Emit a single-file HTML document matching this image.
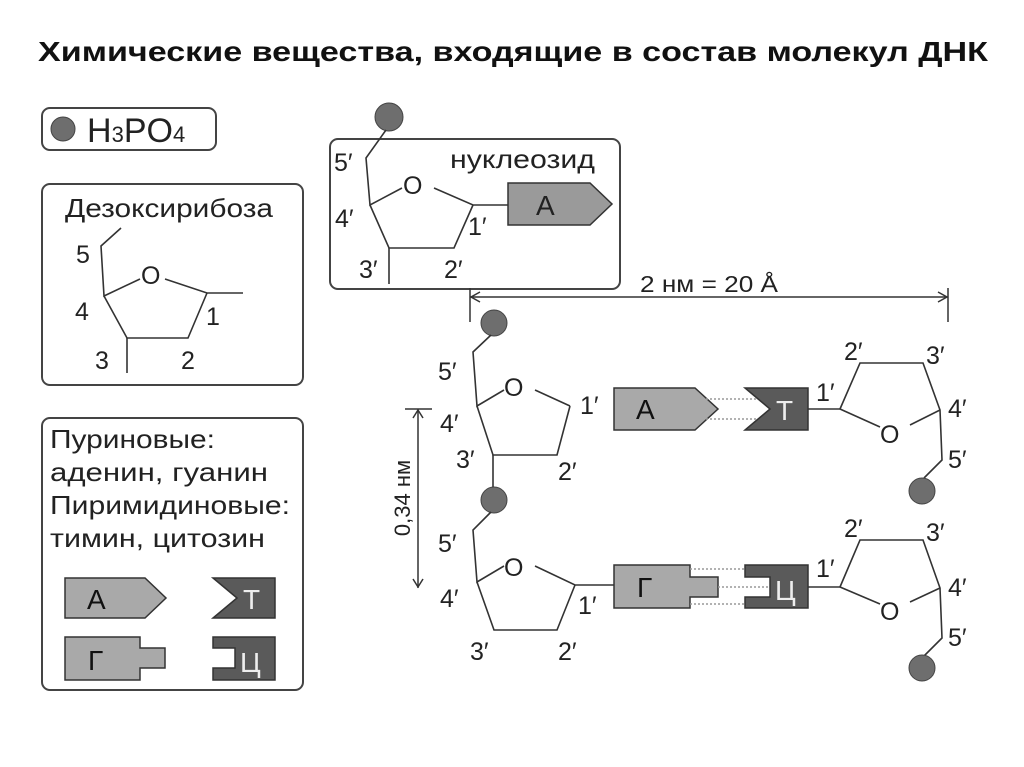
<!DOCTYPE html>
<html><head><meta charset="utf-8"><style>
body{margin:0;background:#fff;}
svg{display:block;font-family:"Liberation Sans",sans-serif;}
</style></head><body>
<svg width="1024" height="767" viewBox="0 0 1024 767" xmlns="http://www.w3.org/2000/svg">
<text x="38" y="61" font-size="28" font-weight="bold" fill="#111" textLength="950" lengthAdjust="spacingAndGlyphs">Химические вещества, входящие в состав молекул ДНК</text>
<g fill="none" stroke="#444" stroke-width="2">
<rect x="42" y="108" width="174" height="42" rx="8"/>
<rect x="42" y="184" width="261" height="201" rx="8"/>
<rect x="330" y="139" width="290" height="150" rx="8"/>
<rect x="42" y="418" width="261" height="272" rx="8"/>
</g>
<circle cx="63" cy="129" r="12" fill="#6e6e6e" stroke="#444"/>
<text x="87" y="142" font-size="34" fill="#222">H<tspan font-size="22">3</tspan>PO<tspan font-size="22">4</tspan></text>
<!-- deoxyribose -->
<text x="65" y="217" font-size="26" fill="#222" textLength="208" lengthAdjust="spacingAndGlyphs">Дезоксирибоза</text>
<g fill="none" stroke="#333" stroke-width="1.6">
<polyline points="121,228 101,246 104,296 140,279"/>
<polyline points="165,279 207,293 243,293"/>
<polyline points="104,296 127,338 188,338 207,293"/>
<line x1="127" y1="338" x2="127" y2="373"/>
</g>
<g font-size="25" fill="#222">
<text x="141" y="284">O</text><text x="76" y="263">5</text><text x="75" y="320">4</text>
<text x="206" y="325">1</text><text x="95" y="369">3</text><text x="181" y="369">2</text>
</g>
<!-- nucleoside -->
<circle cx="389" cy="117" r="14" fill="#6e6e6e" stroke="#444"/>
<g fill="none" stroke="#333" stroke-width="1.6">
<polyline points="386,130 366,158 370,205 402,188"/>
<polyline points="434,188 473,205 508,205"/>
<polyline points="370,205 389,248 454,248 473,205"/>
<line x1="389" y1="248" x2="389" y2="284"/>
</g>
<polygon points="508,183 590,183 612,204 590,225 508,225" fill="#9a9a9a" stroke="#333" stroke-width="1.5"/>
<g font-size="25" fill="#222">
<text x="450" y="168" font-size="26" textLength="145" lengthAdjust="spacingAndGlyphs">нуклеозид</text><text x="403" y="194">O</text>
<text x="334" y="171">5′</text><text x="335" y="227">4′</text><text x="468" y="235">1′</text>
<text x="359" y="278">3′</text><text x="444" y="278">2′</text>
<text x="536" y="215" font-size="28">A</text>
</g>
<!-- 2nm dimension -->
<g stroke="#333" stroke-width="1.5" fill="none">
<line x1="470" y1="297" x2="948" y2="297"/>
<line x1="470" y1="288" x2="470" y2="322"/><line x1="948" y1="288" x2="948" y2="322"/>
<polyline points="480,292 471,297 480,302"/><polyline points="938,292 947,297 938,302"/>
<line x1="418" y1="409" x2="418" y2="588"/><line x1="405" y1="409" x2="432" y2="409"/>
<polyline points="413,418 418,410 423,418"/><polyline points="413,579 418,587 423,579"/>
</g>
<text x="640" y="292" font-size="23" fill="#222" textLength="138" lengthAdjust="spacingAndGlyphs">2 нм = 20 Å</text>
<text transform="translate(410,498) rotate(-90)" text-anchor="middle" font-size="22" fill="#222">0,34 нм</text>
<!-- left sugars -->
<circle cx="494" cy="323" r="13" fill="#6e6e6e" stroke="#444"/>
<circle cx="494" cy="500" r="13" fill="#6e6e6e" stroke="#444"/>
<g fill="none" stroke="#333" stroke-width="1.6">
<polyline points="491,335 473,352 477,406 504,390"/>
<polyline points="535,390 570,406"/>
<polyline points="477,406 493,455 557,455 570,406"/>
<line x1="493" y1="455" x2="493" y2="487"/>
<polyline points="491,512 473,530 477,582 504,566"/>
<polyline points="535,566 575,585 614,585"/>
<polyline points="477,582 494,630 557,630 575,585"/>
</g>
<g font-size="25" fill="#222">
<text x="504" y="396">O</text><text x="504" y="576">O</text>
<text x="438" y="380">5′</text><text x="440" y="432">4′</text><text x="580" y="414">1′</text>
<text x="456" y="468">3′</text><text x="558" y="480">2′</text>
<text x="438" y="552">5′</text><text x="440" y="607">4′</text><text x="578" y="614">1′</text>
<text x="470" y="660">3′</text><text x="558" y="660">2′</text>
</g>
<!-- bases pair -->
<polygon points="614,388 695,388 718,409 695,430 614,430" fill="#a9a9a9" stroke="#333" stroke-width="1.5"/>
<polygon points="745,388 808,388 808,430 745,430 770,409" fill="#5a5a5a" stroke="#333" stroke-width="1.5"/>
<polygon points="614,565 690,565 690,577 718,577 718,597 690,597 690,608 614,608" fill="#a9a9a9" stroke="#333" stroke-width="1.5"/>
<polygon points="745,565 808,565 808,608 745,608 745,597 770,597 770,577 745,577" fill="#5a5a5a" stroke="#333" stroke-width="1.5"/>
<g stroke="#999" stroke-width="1.5" stroke-dasharray="2,2">
<line x1="706" y1="399" x2="758" y2="399"/><line x1="706" y1="419" x2="758" y2="419"/>
<line x1="690" y1="569" x2="745" y2="569"/><line x1="718" y1="587" x2="770" y2="587"/><line x1="690" y1="604" x2="745" y2="604"/>
</g>
<g font-size="28">
<text x="636" y="419" fill="#111">A</text><text x="776" y="420" fill="#eee">T</text>
<text x="637" y="597" fill="#111">Г</text><text x="775" y="600" fill="#eee">Ц</text>
</g>
<!-- right sugars -->
<g fill="none" stroke="#333" stroke-width="1.6">
<line x1="808" y1="409" x2="840" y2="409"/>
<polyline points="840,409 860,363 923,363 940,410 942,460 924,478"/>
<polyline points="840,409 880,427"/><polyline points="910,425 940,410"/>
<line x1="808" y1="587" x2="840" y2="587"/>
<polyline points="840,587 860,540 923,540 940,588 942,638 924,656"/>
<polyline points="840,587 880,604"/><polyline points="910,602 940,588"/>
</g>
<circle cx="922" cy="491" r="13" fill="#6e6e6e" stroke="#444"/>
<circle cx="922" cy="668" r="13" fill="#6e6e6e" stroke="#444"/>
<g font-size="25" fill="#222">
<text x="880" y="443">O</text><text x="880" y="620">O</text>
<text x="816" y="401">1′</text><text x="844" y="360">2′</text><text x="926" y="364">3′</text><text x="948" y="417">4′</text><text x="948" y="468">5′</text>
<text x="816" y="577">1′</text><text x="844" y="537">2′</text><text x="926" y="541">3′</text><text x="948" y="596">4′</text><text x="948" y="646">5′</text>
</g>
<!-- legend -->
<g font-size="26" fill="#222">
<text x="50" y="448" textLength="165" lengthAdjust="spacingAndGlyphs">Пуриновые:</text>
<text x="50" y="481" textLength="218" lengthAdjust="spacingAndGlyphs">аденин, гуанин</text>
<text x="50" y="514" textLength="240" lengthAdjust="spacingAndGlyphs">Пиримидиновые:</text>
<text x="50" y="547" textLength="215" lengthAdjust="spacingAndGlyphs">тимин, цитозин</text>
</g>
<polygon points="65,578 145,578 166,598 145,618 65,618" fill="#a9a9a9" stroke="#333" stroke-width="1.5"/>
<polygon points="213,578 275,578 275,618 213,618 237,598" fill="#5a5a5a" stroke="#333" stroke-width="1.5"/>
<polygon points="65,637 140,637 140,648 165,648 165,668 140,668 140,680 65,680" fill="#a9a9a9" stroke="#333" stroke-width="1.5"/>
<polygon points="213,637 275,637 275,680 213,680 213,668 235,668 235,648 213,648" fill="#5a5a5a" stroke="#333" stroke-width="1.5"/>
<g font-size="28">
<text x="87" y="609" fill="#111">A</text><text x="243" y="609" fill="#eee">T</text>
<text x="88" y="670" fill="#111">Г</text><text x="240" y="672" fill="#eee">Ц</text>
</g>
</svg>
</body></html>
